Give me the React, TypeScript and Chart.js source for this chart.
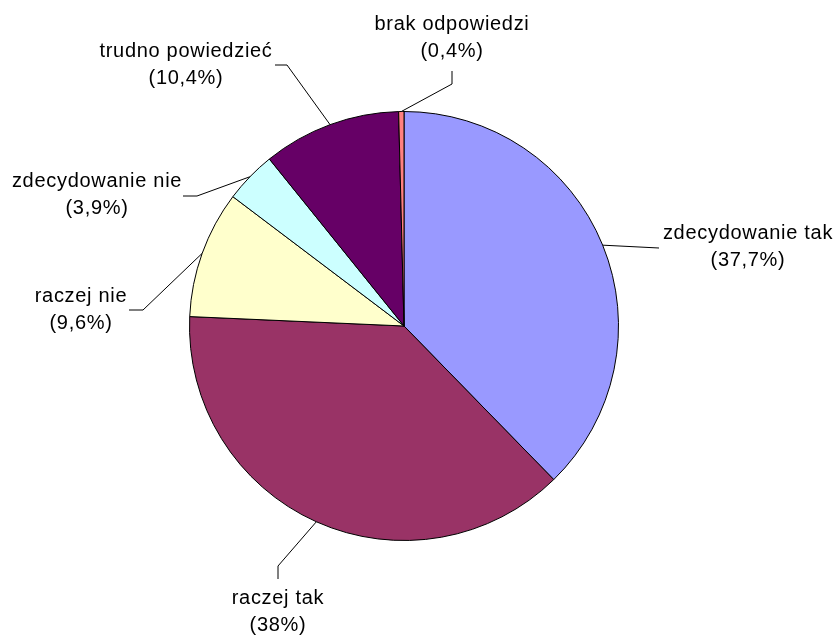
import React, { useEffect, useRef } from "react";
import { Chart, registerables } from "chart.js";

Chart.register(...registerables);

// Survey answers, clockwise from 12 o'clock
const categories = [
  "zdecydowanie tak",
  "raczej tak",
  "raczej nie",
  "zdecydowanie nie",
  "trudno powiedzieć",
  "brak odpowiedzi",
];
const shares = [37.7, 38, 9.6, 3.9, 10.4, 0.4];
const sliceColors = ["#9999FF", "#993366", "#FFFFCC", "#CCFFFF", "#660066", "#FF8080"];

// Callout placement relative to the pie centre (px): elbow of the leader line,
// end of the leader line, and the anchor (centre x / first baseline) of the text.
const callouts = [
  { elbow: [255, -78], end: [255, -78], text: [344, -87] },
  { elbow: [-126, 240], end: [-126, 253], text: [-126, 278] },
  { elbow: [-261, -16], end: [-275, -16], text: [-323, -24] },
  { elbow: [-207, -130], end: [-221, -130], text: [-307, -139] },
  { elbow: [-117, -261], end: [-129, -261], text: [-218, -269] },
  { elbow: [48, -242], end: [48, -255], text: [48, -296] },
];

const FONT = '20px "Liberation Sans", Arial, sans-serif';
const LINE_GAP = 27;

const formatShare = (v: number) => "(" + String(v).replace(".", ",") + "%)";

const calloutPlugin = {
  id: "pieCallouts",
  afterDraw(chart: any) {
    const { ctx } = chart;
    const meta = chart.getDatasetMeta(0);
    ctx.save();
    meta.data.forEach((arc: any, i: number) => {
      const { x, y, startAngle, endAngle, outerRadius } = arc.getProps(
        ["x", "y", "startAngle", "endAngle", "outerRadius"],
        true
      );
      const mid = (startAngle + endAngle) / 2;
      const sx = x + Math.cos(mid) * outerRadius;
      const sy = y + Math.sin(mid) * outerRadius;
      const c = callouts[i];
      ctx.strokeStyle = "#000";
      ctx.lineWidth = 1;
      ctx.beginPath();
      ctx.moveTo(sx, sy);
      ctx.lineTo(x + c.elbow[0], y + c.elbow[1]);
      ctx.lineTo(x + c.end[0], y + c.end[1]);
      ctx.stroke();

      ctx.fillStyle = "#000";
      ctx.font = FONT;
      (ctx as any).letterSpacing = "0.7px";
      ctx.textAlign = "center";
      ctx.textBaseline = "alphabetic";
      const tx = x + c.text[0];
      const ty = y + c.text[1];
      ctx.fillText(categories[i], tx, ty);
      ctx.fillText(formatShare(shares[i]), tx, ty + LINE_GAP);
    });
    ctx.restore();
  },
};

export default function App() {
  const canvasRef = useRef<HTMLCanvasElement | null>(null);

  useEffect(() => {
    if (!canvasRef.current) return;
    const chart = new Chart(canvasRef.current, {
      type: "pie",
      data: {
        labels: categories,
        datasets: [
          {
            data: shares,
            backgroundColor: sliceColors,
            borderColor: "#000",
            borderWidth: 1,
          },
        ],
      },
      options: {
        animation: false,
        responsive: true,
        maintainAspectRatio: false,
        layout: { padding: { top: 111, bottom: 94, left: 189, right: 218 } },
        plugins: {
          legend: { display: false },
          tooltip: { enabled: false },
        },
      },
      plugins: [calloutPlugin],
    });
    return () => chart.destroy();
  }, []);

  return (
    <div
      style={{
        position: "absolute",
        left: 0,
        top: 0,
        width: 837,
        height: 635,
        background: "#fff",
      }}
    >
      <canvas ref={canvasRef} />
    </div>
  );
}
